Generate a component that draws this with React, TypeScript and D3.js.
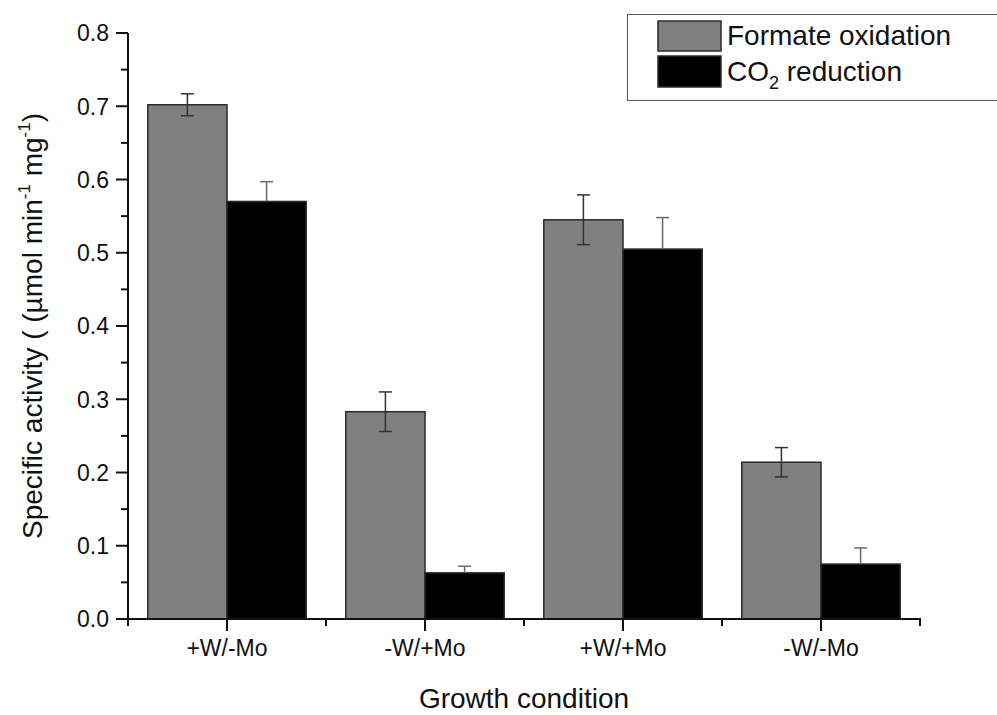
import React from "react";
import * as d3 from "d3";

const categories = ["+W/-Mo", "-W/+Mo", "+W/+Mo", "-W/-Mo"];
const seriesNames = ["Formate oxidation", "CO2 reduction"];
const formateValues = [0.702, 0.283, 0.545, 0.214];
const formateErrors = [0.015, 0.027, 0.034, 0.020];
const co2Values = [0.570, 0.063, 0.505, 0.075];
const co2Errors = [0.027, 0.009, 0.043, 0.022];
const yTicks = [0, 0.1, 0.2, 0.3, 0.4, 0.5, 0.6, 0.7, 0.8];
const yMinorTicks = [0.05, 0.15, 0.25, 0.35, 0.45, 0.55, 0.65, 0.75];

const W = 997;
const H = 715;
const left = 128;
const right = 920;
const top = 33;
const bottom = 619;
const FONT = "'Liberation Sans', Arial, Helvetica, sans-serif";
const fills = ["#808080", "#000000"];

export default function App() {
  const y = d3.scaleLinear().domain([0, 0.8]).range([bottom, top]);
  const x = d3
    .scaleBand<string>()
    .domain(categories)
    .range([left, right])
    .paddingInner(0.2)
    .paddingOuter(0.1);
  const inner = d3
    .scaleBand<string>()
    .domain(seriesNames)
    .range([0, x.bandwidth()])
    .padding(0);

  const series = [
    { name: seriesNames[0], values: formateValues, errors: formateErrors, fill: fills[0], dark: false },
    { name: seriesNames[1], values: co2Values, errors: co2Errors, fill: fills[1], dark: true },
  ];

  const step = x.step();
  const boundaries = d3.range(categories.length + 1).map((i) => left + i * step);

  return (
    <svg
      width={W}
      height={H}
      style={{ position: "absolute", left: 0, top: 0, display: "block", background: "#fff" }}
      fontFamily={FONT}
    >
      <rect x={0} y={0} width={W} height={H} fill="#fff" />
      {/* bars */}
      {series.map((s) =>
        categories.map((c, i) => {
          const bx = (x(c) as number) + (inner(s.name) as number);
          const bw = inner.bandwidth();
          const yv = y(s.values[i]);
          return (
            <rect
              key={s.name + c}
              x={bx}
              y={yv}
              width={bw}
              height={bottom - yv}
              fill={s.fill}
              stroke="#2a2a2a"
              strokeWidth={1.5}
            />
          );
        })
      )}
      {/* error bars */}
      {series.map((s) =>
        categories.map((c, i) => {
          const cx = (x(c) as number) + (inner(s.name) as number) + inner.bandwidth() / 2;
          const yv = y(s.values[i]);
          const y1 = y(s.values[i] + s.errors[i]);
          const y0 = y(s.values[i] - s.errors[i]);
          const hw = 6.5;
          if (s.dark) {
            return (
              <g key={"e" + s.name + c} stroke="#6a6a6a" strokeWidth={1.5}>
                <line x1={cx} x2={cx} y1={y1} y2={yv} />
                <line x1={cx - hw} x2={cx + hw} y1={y1} y2={y1} />
              </g>
            );
          }
          return (
            <g key={"e" + s.name + c} stroke="#333" strokeWidth={1.5}>
              <line x1={cx} x2={cx} y1={y1} y2={y0} />
              <line x1={cx - hw} x2={cx + hw} y1={y1} y2={y1} />
              <line x1={cx - hw} x2={cx + hw} y1={y0} y2={y0} />
            </g>
          );
        })
      )}
      {/* axes */}
      <g stroke="#111" strokeWidth={2}>
        <line x1={left} x2={left} y1={top} y2={bottom + 6} />
        <line x1={left - 1} x2={right + 1} y1={bottom} y2={bottom} />
        {yTicks.map((t) => (
          <line key={"yt" + t} x1={left - 12} x2={left} y1={y(t)} y2={y(t)} />
        ))}
        {yMinorTicks.map((t) => (
          <line key={"ym" + t} x1={left - 7} x2={left} y1={y(t)} y2={y(t)} />
        ))}
        {categories.map((c) => {
          const cx = (x(c) as number) + x.bandwidth() / 2;
          return <line key={"xt" + c} x1={cx} x2={cx} y1={bottom} y2={bottom + 12} />;
        })}
        {boundaries.map((b, i) => (
          <line key={"xb" + i} x1={b} x2={b} y1={bottom} y2={bottom + 7} />
        ))}
      </g>
      {/* y tick labels */}
      {yTicks.map((t) => (
        <text
          key={"yl" + t}
          x={left - 19}
          y={y(t)}
          dy="0.36em"
          textAnchor="end"
          fontSize={23}
          fill="#111"
        >
          {d3.format(".1f")(t)}
        </text>
      ))}
      {/* x tick labels */}
      {categories.map((c) => (
        <text
          key={"xl" + c}
          x={(x(c) as number) + x.bandwidth() / 2}
          y={656}
          textAnchor="middle"
          fontSize={23}
          fill="#111"
        >
          {c}
        </text>
      ))}
      {/* axis titles */}
      <text x={(left + right) / 2} y={708} textAnchor="middle" fontSize={28} fill="#111">
        Growth condition
      </text>
      <text
        transform={`translate(42, ${(top + bottom) / 2}) rotate(-90)`}
        textAnchor="middle"
        fontSize={28}
        fill="#111"
      >
        Specific activity ( (µmol min
        <tspan fontSize={17} dy={-12}>-1</tspan>
        <tspan dy={12}> mg</tspan>
        <tspan fontSize={17} dy={-12}>-1</tspan>
        <tspan dy={12}>)</tspan>
      </text>
      {/* legend */}
      <rect x={627.5} y={14.5} width={380} height={86} fill="#fff" stroke="#555" strokeWidth={1} />
      <rect x={658} y={21} width={63} height={30} fill={fills[0]} stroke="#2a2a2a" strokeWidth={1.5} />
      <rect x={658} y={56} width={63} height={31} fill={fills[1]} stroke="#2a2a2a" strokeWidth={1.5} />
      <text x={727} y={45} fontSize={28} fill="#111">
        Formate oxidation
      </text>
      <text x={727} y={81} fontSize={28} fill="#111">
        CO
        <tspan fontSize={18} dy={8}>2</tspan>
        <tspan dy={-8}> reduction</tspan>
      </text>
    </svg>
  );
}
